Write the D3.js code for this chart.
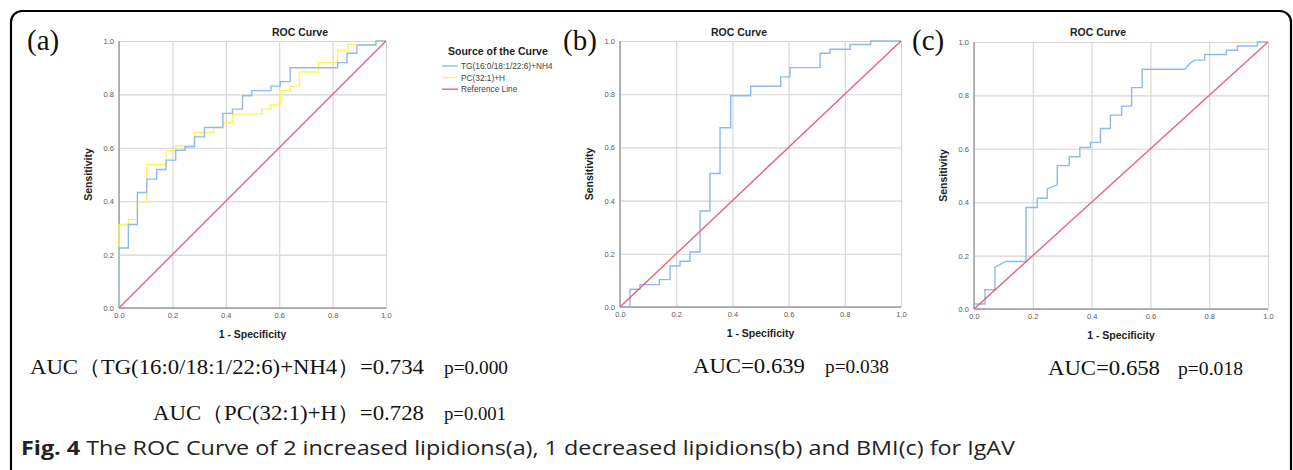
<!DOCTYPE html>
<html>
<head>
<meta charset="utf-8">
<script src="https://cdn.jsdelivr.net/npm/d3@7/dist/d3.min.js"></script>
<style>
  body { margin: 0; background: #fff; }
  svg text { font-family: "Liberation Sans", Arial, sans-serif; }
</style>
</head>
<body>
<svg id="fig" width="1293" height="470"></svg>
<script>
// ---- data: [1 - specificity, sensitivity] corners ----
var tickValues = [0, 0.2, 0.4, 0.6, 0.8, 1.0];

var rocA_TG = [[0,0],[0,0.225],[0.035,0.225],[0.035,0.3125],[0.069,0.3125],[0.069,0.4325],[0.104,0.4325],
  [0.104,0.4825],[0.141,0.4825],[0.141,0.519],[0.176,0.519],[0.176,0.554],[0.2125,0.554],[0.2125,0.591],
  [0.2475,0.591],[0.2475,0.604],[0.283,0.604],[0.283,0.641],[0.32,0.641],[0.32,0.676],[0.389,0.676],
  [0.389,0.729],[0.425,0.729],[0.425,0.745],[0.4625,0.745],[0.4625,0.795],[0.4975,0.795],[0.4975,0.814],
  [0.569,0.814],[0.569,0.831],[0.604,0.831],[0.604,0.848],[0.641,0.848],[0.641,0.9],[0.819,0.9],
  [0.819,0.919],[0.854,0.919],[0.854,0.954],[0.891,0.954],[0.891,0.985],[0.9625,0.985],[0.9625,1],[1,1]];

var rocA_PC = [[0,0],[0,0.3125],[0.035,0.3125],[0.035,0.331],[0.069,0.331],[0.069,0.3975],[0.104,0.3975],
  [0.104,0.5375],[0.176,0.5375],[0.176,0.589],[0.2125,0.589],[0.2125,0.6075],[0.2825,0.6075],[0.2825,0.6575],
  [0.354,0.6575],[0.354,0.676],[0.389,0.676],[0.389,0.694],[0.425,0.694],[0.425,0.726],[0.535,0.726],
  [0.535,0.745],[0.569,0.745],[0.569,0.7625],[0.604,0.7625],[0.604,0.814],[0.641,0.814],[0.641,0.831],
  [0.676,0.831],[0.676,0.884],[0.7475,0.884],[0.7475,0.919],[0.819,0.919],[0.819,0.966],[0.8575,0.966],
  [0.8575,0.9875],[0.9625,0.9875],[0.9625,1],[1,1]];

var rocB = [[0,0],[0.0356,0],[0.0356,0.0665],[0.071,0.0665],[0.071,0.084],[0.14,0.084],[0.14,0.103],
  [0.178,0.103],[0.178,0.154],[0.2135,0.154],[0.2135,0.172],[0.249,0.172],[0.249,0.207],[0.285,0.207],
  [0.285,0.361],[0.32,0.361],[0.32,0.502],[0.356,0.502],[0.356,0.674],[0.394,0.674],[0.394,0.794],
  [0.465,0.794],[0.465,0.83],[0.572,0.83],[0.572,0.865],[0.605,0.865],[0.605,0.9],[0.712,0.9],
  [0.712,0.954],[0.747,0.954],[0.747,0.969],[0.819,0.969],[0.819,0.987],[0.892,0.987],[0.892,1],[1,1]];

var rocC = [[0,0],[0,0.019],[0.0374,0.019],[0.0374,0.072],[0.0713,0.072],[0.0713,0.157],[0.109,0.178],
  [0.177,0.178],[0.177,0.38],[0.215,0.38],[0.215,0.415],[0.249,0.415],[0.249,0.45],[0.283,0.465],
  [0.283,0.537],[0.324,0.537],[0.324,0.57],[0.36,0.57],[0.36,0.605],[0.396,0.605],[0.396,0.624],
  [0.43,0.624],[0.43,0.676],[0.464,0.676],[0.464,0.726],[0.502,0.726],[0.502,0.76],[0.536,0.76],
  [0.536,0.829],[0.572,0.829],[0.572,0.898],[0.717,0.898],[0.735,0.92],[0.75,0.932],[0.785,0.932],
  [0.785,0.953],[0.858,0.953],[0.858,0.969],[0.896,0.969],[0.896,0.985],[0.964,0.985],[0.964,1],[1,1]];

var refLine = [[0,0],[1,1]];

var legendLabels = ["TG(16:0/18:1/22:6)+NH4", "PC(32:1)+H", "Reference Line"];
var panelLabels = ["(a)", "(b)", "(c)"];
var aucLines = [
  ["AUC\uFF08TG(16:0/18:1/22:6)+NH4\uFF09=0.734", "p=0.000"],
  ["AUC\uFF08PC(32:1)+H\uFF09=0.728", "p=0.001"],
  ["AUC=0.639", "p=0.038"],
  ["AUC=0.658", "p=0.018"]
];
var captionBold = "Fig. 4";
var captionText = " The ROC Curve of 2 increased lipidions(a), 1 decreased lipidions(b) and BMI(c) for IgAV";

// ---- layout / styles ----
var blue = "#8fb9ee", yellow = "#f8f85a", pink = "#e8627e";

var panels = [
  {left:119, right:386, top:41, bottom:308, titleX:300, labelX:27, curves:[[rocA_TG, blue],[rocA_PC, yellow]]},
  {left:620, right:901, top:41, bottom:307, titleX:739, labelX:563, curves:[[rocB, blue]]},
  {left:974, right:1268, top:42, bottom:309, titleX:1098, labelX:912, curves:[[rocC, blue]]}
];

var svg = d3.select("#fig");

// rounded frame
svg.append("rect").attr("x", 11).attr("y", 11).attr("width", 1280).attr("height", 500)
  .attr("rx", 11).attr("fill", "none").attr("stroke", "#000").attr("stroke-width", 2.2);

panels.forEach(function(p, i) {
  var x = d3.scaleLinear().domain([0, 1]).range([p.left, p.right]);
  var y = d3.scaleLinear().domain([0, 1]).range([p.bottom, p.top]);
  var g = svg.append("g");

  // grid + tick labels
  var xAxis = g.append("g").attr("transform", "translate(0," + p.bottom + ")")
    .call(d3.axisBottom(x).tickValues(tickValues).tickFormat(d3.format(".1f"))
      .tickSize(-(p.bottom - p.top)).tickPadding(5));
  var yAxis = g.append("g").attr("transform", "translate(" + p.left + ",0)")
    .call(d3.axisLeft(y).tickValues(tickValues).tickFormat(d3.format(".1f"))
      .tickSize(-(p.right - p.left)).tickPadding(5));
  [xAxis, yAxis].forEach(function(a) {
    a.select(".domain").remove();
    a.selectAll(".tick line").attr("stroke", "#d4d4d4").attr("stroke-width", 1.1);
    a.selectAll(".tick text").attr("fill", "#5a5a5a").style("font-size", "7.5px");
  });
  // axis lines
  g.append("line").attr("x1", p.left).attr("x2", p.right).attr("y1", p.bottom).attr("y2", p.bottom)
    .attr("stroke", "#9a9a9a").attr("stroke-width", 1.4);
  g.append("line").attr("x1", p.left).attr("x2", p.left).attr("y1", p.top).attr("y2", p.bottom)
    .attr("stroke", "#9a9a9a").attr("stroke-width", 1.4);

  var line = d3.line().x(function(d) { return x(d[0]); }).y(function(d) { return y(d[1]); });

  p.curves.slice().reverse().forEach(function(c) {
    g.append("path").datum(c[0]).attr("d", line).attr("fill", "none")
      .attr("stroke", c[1]).attr("stroke-width", 1.4);
  });
  g.append("path").datum(refLine).attr("d", line).attr("fill", "none")
    .attr("stroke", pink).attr("stroke-width", 1.4);

  // titles
  g.append("text").attr("x", p.titleX).attr("y", 35.5).attr("text-anchor", "middle")
    .style("font-size", "10.5px").style("font-weight", "bold").attr("fill", "#222").text("ROC Curve");
  g.append("text").attr("x", (p.left + p.right) / 2).attr("y", p.bottom + 30).attr("text-anchor", "middle")
    .style("font-size", "10.5px").style("font-weight", "bold").attr("fill", "#222").text("1 - Specificity");
  g.append("text").attr("transform", "translate(" + (p.left - 27) + "," + ((p.top + p.bottom) / 2) + ") rotate(-90)")
    .attr("text-anchor", "middle").style("font-size", "10.5px").style("font-weight", "bold")
    .attr("fill", "#222").text("Sensitivity");

  // panel letter
  svg.append("text").attr("x", p.labelX).attr("y", 50).text(panelLabels[i])
    .style("font-family", "'Liberation Serif', 'Times New Roman', serif").style("font-size", "29px").attr("fill", "#111");
});

// legend of panel (a)
var leg = svg.append("g");
leg.append("text").attr("x", 448).attr("y", 54.5).text("Source of the Curve")
  .style("font-size", "10.5px").style("font-weight", "bold").attr("fill", "#222");
var legColors = [blue, yellow, pink];
legendLabels.forEach(function(t, i) {
  var yy = 66 + i * 11.6;
  leg.append("line").attr("x1", 442).attr("x2", 458).attr("y1", yy).attr("y2", yy)
    .attr("stroke", legColors[i]).attr("stroke-width", 1.4);
  leg.append("text").attr("x", 461).attr("y", yy + 3).text(t)
    .style("font-size", "8.3px").attr("fill", "#444");
});

// AUC annotations (x0, x1 = span of each text piece)
var aucPos = [
  {x:30,  y:374, w:394, px:444, pw:64},
  {x:153, y:420, w:271, px:444, pw:62},
  {x:693, y:373, w:112, px:825, pw:64},
  {x:1048, y:375, w:112, px:1178, pw:65}
];
aucLines.forEach(function(a, i) {
  var pos = aucPos[i];
  svg.append("text").attr("x", pos.x).attr("y", pos.y).text(a[0])
    .attr("textLength", pos.w).attr("lengthAdjust", "spacingAndGlyphs")
    .style("font-family", "'Liberation Serif', 'Times New Roman', serif").style("font-size", "21px").attr("fill", "#111");
  svg.append("text").attr("x", pos.px).attr("y", pos.y).text(a[1])
    .attr("textLength", pos.pw).attr("lengthAdjust", "spacingAndGlyphs")
    .style("font-family", "'Liberation Serif', 'Times New Roman', serif").style("font-size", "18px").attr("fill", "#111");
});

// caption
var cap = svg.append("text").attr("x", 21).attr("y", 455)
  .attr("textLength", 994).attr("lengthAdjust", "spacingAndGlyphs")
  .style("font-family", "'Open Sans', 'Noto Sans', sans-serif").style("font-size", "20px").attr("fill", "#222");
cap.append("tspan").style("font-weight", "bold").text(captionBold);
cap.append("tspan").text(captionText);
</script>
</body>
</html>
